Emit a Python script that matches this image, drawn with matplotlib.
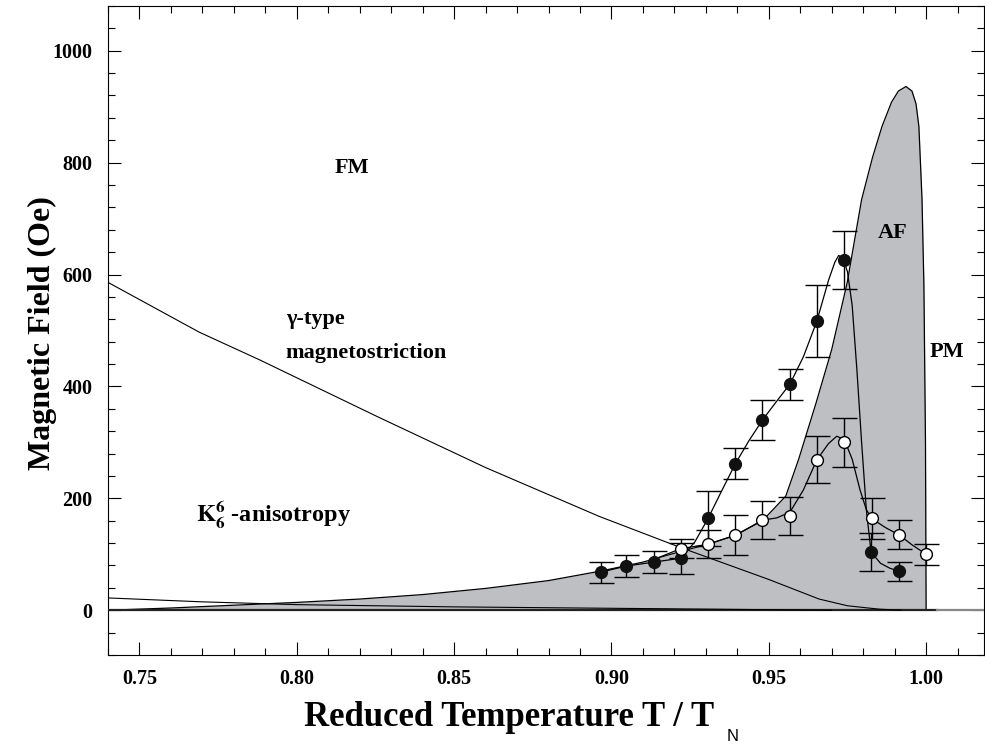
import matplotlib
matplotlib.use("Agg")
import matplotlib.pyplot as plt
from matplotlib.ticker import MultipleLocator, FormatStrFormatter

plt.rcParams['font.family'] = ['Liberation Serif', 'DejaVu Serif']
plt.rcParams['font.weight'] = 'bold'
plt.rcParams['mathtext.fontset'] = 'stix'

# AF region (upper boundary of the gray area)
af_x = [0.74, 0.76, 0.78, 0.80, 0.82, 0.84, 0.86, 0.88, 0.8966, 0.91, 0.922, 0.9307,
        0.9394, 0.948, 0.9554, 0.9595, 0.9650, 0.970, 0.9749, 0.9795, 0.9830, 0.9860,
        0.9890, 0.9912, 0.9936, 0.9955, 0.9968, 0.9977, 0.9987, 0.9993, 0.9998, 1.0]
af_y = [0, 4, 9, 14, 20, 28, 39, 53, 70, 86, 105, 118,
        134, 160, 204, 270, 370, 466, 585, 734, 810, 865,
        908, 928, 936, 928, 905, 865, 734, 580, 300, 0]

# gamma-type magnetostriction line
gam_x = [0.74, 0.769, 0.788, 0.826, 0.86, 0.896, 0.922, 0.95, 0.966, 0.975, 0.985, 0.992]
gam_y = [586, 497, 448, 345, 255, 168, 112, 55, 20, 8, 2, 0]

# K6 anisotropy line
k6_x = [0.74, 0.77, 0.80, 0.85, 0.89, 0.93, 0.97]
k6_y = [22, 15, 10, 6, 4, 2, 0]

# filled circles
fill_x = [0.8966, 0.9047, 0.9135, 0.922, 0.9307, 0.9394, 0.948, 0.9567, 0.9653, 0.974, 0.9825, 0.9913]
fill_y = [68, 79, 86, 93, 164, 262, 340, 404, 517, 626, 104, 70]
fill_err = [19, 19, 19, 28, 49, 28, 35, 28, 64, 52, 34, 17]

# open circles
open_x = [0.922, 0.9307, 0.9394, 0.948, 0.9567, 0.9653, 0.974, 0.9827, 0.9913, 1.0]
open_y = [110, 118, 134, 161, 168, 269, 300, 164, 135, 100]
open_err = [17, 25, 36, 34, 34, 42, 44, 37, 26, 19]

# guide-to-the-eye curves
fc_x = [0.8966, 0.9047, 0.9135, 0.922, 0.9265, 0.9307, 0.935, 0.9394, 0.9437, 0.948,
        0.9523, 0.9567, 0.961, 0.9653, 0.9690, 0.9710, 0.9722, 0.9735, 0.9750, 0.9765,
        0.9780, 0.9795, 0.981, 0.9825, 0.9855, 0.9885, 0.9913]
fc_y = [68, 79, 86, 93, 122, 164, 213, 262, 303, 340,
        372, 404, 453, 517, 590, 622, 634, 630, 605, 545,
        430, 300, 180, 104, 84, 75, 70]
oc_x = [0.914, 0.922, 0.9307, 0.9394, 0.948, 0.9525, 0.9567, 0.961, 0.9653, 0.969,
        0.9716, 0.974, 0.9765, 0.9790, 0.9810, 0.9827, 0.987, 0.9913, 0.9955, 1.0]
oc_y = [92, 110, 118, 134, 161, 165, 175, 215, 269, 298,
        311, 305, 270, 215, 180, 164, 148, 135, 117, 100]

fig = plt.figure(figsize=(9.85, 7.45), dpi=100)
ax = fig.add_axes([0.1096, 0.1208, 0.8894, 0.8712])

ax.fill_between(af_x, 0, af_y, color='#bebfc3', lw=0, zorder=1)
ax.plot(af_x, af_y, color='k', lw=0.9, zorder=2)

ax.plot([0.74, 1.0035], [0, 0], color='#222222', lw=1.6, zorder=3)
ax.plot([1.0035, 1.02], [0, 0], color='#888888', lw=1.6, zorder=3)

ax.plot(gam_x, gam_y, color='k', lw=0.8, zorder=3)
ax.plot(k6_x, k6_y, color='k', lw=0.8, zorder=3)

ax.plot(fc_x, fc_y, color='k', lw=0.9, zorder=4)
ax.plot(oc_x, oc_y, color='k', lw=0.9, zorder=4)

ax.errorbar(fill_x, fill_y, yerr=fill_err, fmt='none', ecolor='k',
            elinewidth=1, capsize=9, capthick=1, zorder=5)
ax.errorbar(open_x, open_y, yerr=open_err, fmt='none', ecolor='k',
            elinewidth=1, capsize=9, capthick=1, zorder=5)
ax.plot(fill_x, fill_y, 'o', color='#111111', ms=8.5, zorder=6)
ax.plot(open_x, open_y, 'o', mfc='white', mec='k', mew=1, ms=8.5, zorder=6)

ax.text(0.8175, 791, 'FM', fontsize=16, ha='center', va='center')
ax.text(0.9895, 675, 'AF', fontsize=16, ha='center', va='center')
ax.text(1.0065, 461, 'PM', fontsize=16, ha='center', va='center')
ax.text(0.7965, 521, '\u03b3-type', fontsize=16, ha='left', va='center')
ax.text(0.7965, 460, 'magnetostriction', fontsize=16, ha='left', va='center')
ax.text(0.768, 170, r'$\mathbf{K}_{\mathbf{6}}^{\mathbf{6}}$ -anisotropy', fontsize=17.5,
        ha='left', va='center')

ax.set_xlim(0.74, 1.0184)
ax.set_ylim(-80, 1080)
ax.xaxis.set_major_locator(MultipleLocator(0.05))
ax.xaxis.set_minor_locator(MultipleLocator(0.01))
ax.xaxis.set_major_formatter(FormatStrFormatter('%.2f'))
ax.yaxis.set_major_locator(MultipleLocator(200))
ax.yaxis.set_minor_locator(MultipleLocator(40))
ax.tick_params(which='both', direction='in', top=True, right=True, labelsize=14.5)
ax.tick_params(axis='x', which='both', pad=10)
ax.tick_params(axis='y', which='both', pad=11)
ax.tick_params(which='major', length=9.5, width=0.8)
ax.tick_params(which='minor', length=5, width=0.8)
for lab in ax.get_xticklabels() + ax.get_yticklabels():
    lab.set_fontweight('bold')
for sp in ax.spines.values():
    sp.set_linewidth(0.8)

ax.set_xlabel('Reduced Temperature T / T', fontsize=25, fontweight='bold', va='top')
ax.xaxis.set_label_coords(0.458, -0.071)
ax.text(0.7125, -0.126, 'N', transform=ax.transAxes, fontsize=12, fontweight='normal',
        family='Liberation Sans', ha='center', va='center')
ax.set_ylabel('Magnetic Field (Oe)', fontsize=23, fontweight='bold')
ax.yaxis.set_label_coords(-0.058, 0.496)

fig.savefig('out.png', dpi=100)
